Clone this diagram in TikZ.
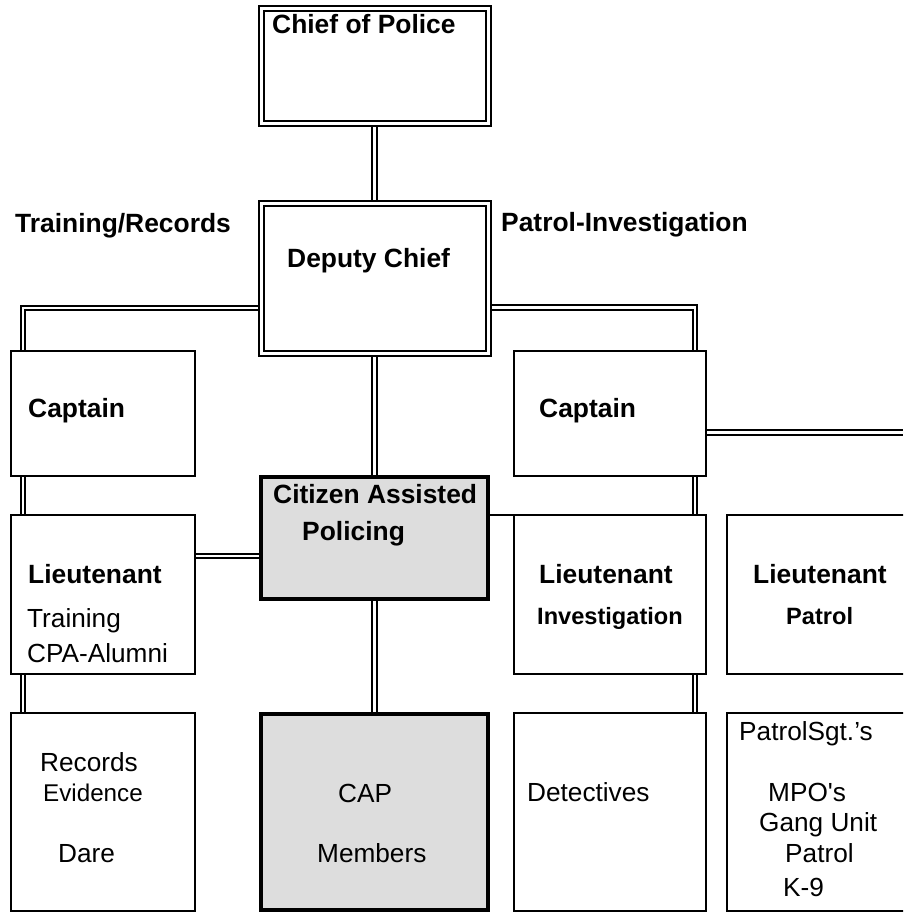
\documentclass[tikz,border=0pt]{standalone}
\usepackage{fontspec}
\setmainfont{Liberation Sans}
\definecolor{capgray}{HTML}{DDDDDD}
\pgfdeclarelayer{bg}      % 连线放在框的下面
\pgfsetlayers{bg,main}

\begin{document}
\begin{tikzpicture}[x=1pt, y=-1pt,
  box/.style={draw, line width=2pt, fill=white, inner sep=0pt, outer sep=0pt, anchor=north west},
  dbox/.style={box, double, line width=2pt, double distance=3pt},
  capbox/.style={box, line width=3.3pt, fill=capgray},
  dline/.style={double, line width=2pt, double distance=2.4pt},
  sline/.style={line width=2pt},
  hd/.style={anchor=base west, inner sep=0pt, font=\fontsize{26.4}{30}\selectfont\bfseries},
  hdsm/.style={anchor=base west, inner sep=0pt, font=\fontsize{23.6}{28}\selectfont\bfseries},
  tx/.style={anchor=base west, inner sep=0pt, font=\fontsize{26.2}{30}\selectfont},
  txsm/.style={anchor=base west, inner sep=0pt, font=\fontsize{24.2}{28}\selectfont}]

  \useasboundingbox (0,0) rectangle (903,913);
  \clip (0,0) rectangle (903,913);

  % ===== 框 =====
  % 上两层：双线框
  \node[dbox, minimum width=227pt, minimum height=115pt] (chief) at (261,8) {};
  \node[dbox, minimum width=227pt, minimum height=149.5pt] (deputy) at (261,203.5) {};

  % 第三层：两个 Captain
  \node[box, minimum width=184pt, minimum height=125pt] (captL) at (11,351) {};
  \node[box, minimum width=192pt, minimum height=125pt] (captR) at (514,351) {};

  % 灰色框（CAP）
  \node[capbox, minimum width=227pt, minimum height=122pt] (cap) at (261,477) {};

  % 第四层：Lieutenant（最右一个超出画面）
  \node[box, minimum width=184pt, minimum height=159pt] (ltL) at (11,515) {};
  \node[box, minimum width=192pt, minimum height=159pt] (ltM) at (514,515) {};
  \node[box, minimum width=250pt, minimum height=159pt] (ltR) at (727,515) {};

  % 最下层
  \node[box, minimum width=184pt, minimum height=198pt] (records) at (11,713) {};
  \node[capbox, minimum width=227pt, minimum height=196pt] (capmem) at (261,714) {};
  \node[box, minimum width=192pt, minimum height=198pt] (detect) at (514,713) {};
  \node[box, minimum width=250pt, minimum height=198pt] (sgt) at (727,713) {};

  % ===== 连线 =====
  % 拐点与自由端
  \coordinate (tL) at (23,308);
  \coordinate (tR) at (695,307.5);
  \coordinate (bY) at (0,556);
  \coordinate (pEnd) at (903,432.5);

  \begin{pgfonlayer}{bg}
    % --- 中间一列 ---
    \draw[dline] (chief.south) -- (deputy.north);
    \draw[dline] (deputy.south) -- (cap.north);
    \draw[dline] (cap.south) -- (capmem.north);

    % --- 左列 ---
    \draw[dline] (deputy.west |- tL) -- (tL) -- (captL.north -| tL);
    \draw[dline] (captL.south -| tL) -- (ltL.north -| tL);
    \draw[dline] (ltL.south -| tL) -- (records.north -| tL);
    \draw[dline] (ltL.east |- bY) -- (cap.west |- bY);

    % --- 右列 ---
    \draw[dline] (deputy.east |- tR) -- (tR) -- (captR.north -| tR);
    \draw[dline] (captR.south -| tR) -- (ltM.north -| tR);
    \draw[dline] (ltM.south -| tR) -- (detect.north -| tR);
    \draw[dline] (captR.east |- pEnd) -- (pEnd);
    \draw[sline] (cap.east |- ltM.north) -- (ltM.north west);
  \end{pgfonlayer}

  % ===== 文字 =====
  \node[hd] (tChief) at (272,33.5) {Chief of Police};
  \node[hd] (tTR) at (15,232) {Training/Records};
  \node[hd] (tDep) at (287,267) {Deputy Chief};
  \node[hd] (tPI) at (501,231) {Patrol-Investigation};

  \node[hd] (tCapL) at (28,417) {Captain};
  \node[hd] (tCapR) at (539,417) {Captain};
  \node[hd] (tCAP1) at (273,503) {Citizen Assisted};
  \node[hd] (tCAP2) at (302,540) {Policing};

  \node[hd] (tLtL) at (28,583) {Lieutenant};
  \node[hd] (tLtM) at (539,583) {Lieutenant};
  \node[hd] (tLtR) at (753,583) {Lieutenant};
  \node[tx] (tTrain) at (27,627) {Training};
  \node[tx] (tAlum) at (27,662) {CPA-Alumni};
  \node[hdsm] (tInv) at (537,624) {Investigation};
  \node[hdsm] (tPat) at (786,624) {Patrol};

  \node[tx] (tRec) at (40,771) {Records};
  \node[txsm] (tEvi) at (43,801) {Evidence};
  \node[tx] (tDare) at (58,862) {Dare};
  \node[tx] (tCAP) at (338,802) {CAP};
  \node[tx] (tMem) at (317,862) {Members};
  \node[tx] (tDet) at (527,801) {Detectives};
  \node[tx] (tSgt) at (739,740) {PatrolSgt.’s};
  \node[tx] (tMPO) at (768,801) {MPO\textquotesingle s};
  \node[tx] (tGang) at (759,831.5) {Gang Unit};
  \node[tx] (tPatrol) at (785,862) {Patrol};
  \node[tx] (tK9) at (783,896) {K-9};
\end{tikzpicture}
\end{document}
